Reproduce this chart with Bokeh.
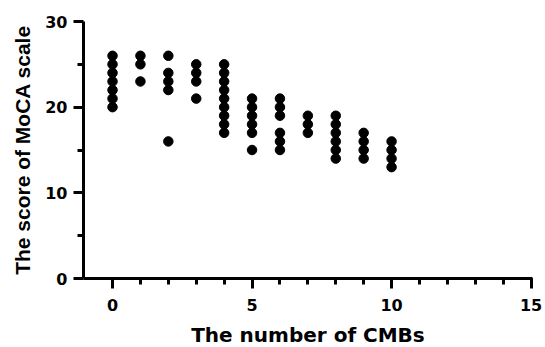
from bokeh.plotting import figure
from bokeh.models import Range1d, FixedTicker
from bokeh.embed import file_html
from bokeh.resources import INLINE

# Data: number of CMBs (x) and MoCA score (y)
cmb_groups = [0, 1, 2, 3, 4, 5, 6, 7, 8, 9, 10]
moca_by_group = [
    [26, 25, 24, 23, 22, 21, 20],
    [26, 25, 23],
    [26, 24, 23, 22, 16],
    [25, 24, 23, 21],
    [25, 24, 23, 22, 21, 20, 19, 18, 17],
    [21, 20, 19, 18, 17, 15],
    [21, 20, 19, 17, 16, 15],
    [19, 18, 17],
    [19, 18, 17, 16, 15, 14],
    [17, 16, 15, 14],
    [16, 15, 14, 13],
]
x_major_ticks = [0, 5, 10, 15]
y_major_ticks = [0, 10, 20, 30]
y_minor_ticks = [5, 15, 25]

cmbs = []
moca = []
for g, vals in zip(cmb_groups, moca_by_group):
    for v in vals:
        cmbs.append(g)
        moca.append(v)

p = figure(
    frame_width=449, frame_height=257,
    min_border_left=83, min_border_right=10, min_border_top=21, min_border_bottom=69,
    x_range=Range1d(-1.04, 15.05), y_range=Range1d(0, 30),
    output_backend="svg", toolbar_location=None,
)
p.outline_line_color = None
p.xgrid.grid_line_color = None
p.ygrid.grid_line_color = None

p.scatter(cmbs, moca, size=9.5, color="black", marker="circle")

p.xaxis.ticker = FixedTicker(ticks=x_major_ticks, minor_ticks=list(range(0, 16)))
p.yaxis.ticker = FixedTicker(ticks=y_major_ticks, minor_ticks=y_minor_ticks)

for ax in (p.xaxis, p.yaxis):
    ax.axis_line_width = 3
    ax.axis_line_color = "black"
    ax.major_tick_line_width = 3
    ax.minor_tick_line_width = 3
    ax.major_tick_line_color = "black"
    ax.minor_tick_line_color = "black"
    ax.major_tick_in = 0
    ax.minor_tick_in = 0
    ax.major_tick_out = 10
    ax.minor_tick_out = 6
    ax.major_label_text_font = "DejaVu Sans"
    ax.major_label_text_font_style = "bold"
    ax.major_label_text_font_size = "16px"
    ax.major_label_text_color = "black"
    ax.axis_label_text_font_style = "bold"
    ax.axis_label_text_color = "black"

p.xaxis.axis_label = "The number of CMBs"
p.xaxis.axis_label_text_font = "DejaVu Sans"
p.xaxis.axis_label_text_font_size = "20px"
p.xaxis.major_label_standoff = 10
p.xaxis.axis_label_standoff = 9

p.yaxis.axis_label = "The score of MoCA scale"
p.yaxis.axis_label_text_font = "Liberation Sans"
p.yaxis.axis_label_text_font_size = "21px"
p.yaxis.major_label_standoff = 6
p.yaxis.axis_label_standoff = 8

open("out.html", "w").write(file_html(p, INLINE))
